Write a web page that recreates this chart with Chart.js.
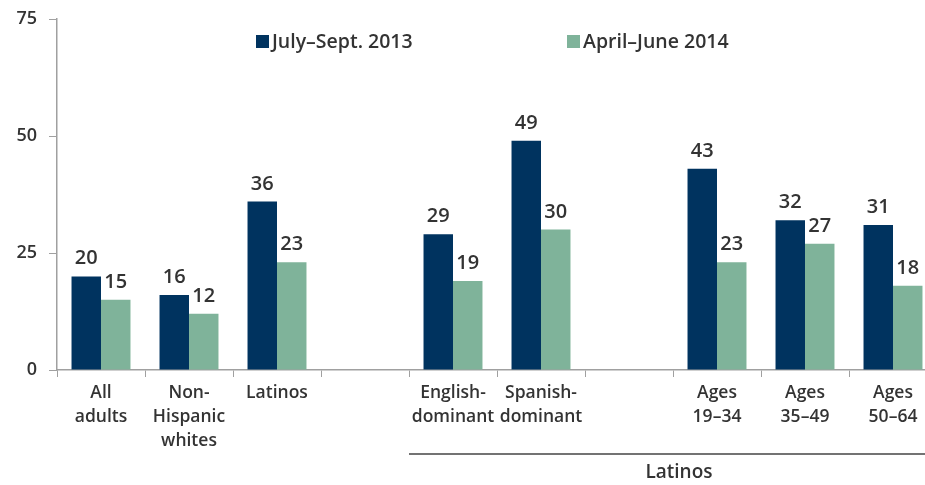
<!DOCTYPE html>
<html>
<head>
<meta charset="utf-8">
<script src="https://cdn.jsdelivr.net/npm/chart.js@4/dist/chart.umd.min.js"></script>
<style>
html,body{margin:0;padding:0;background:#fff;overflow:hidden;}
#wrap{position:relative;width:940px;height:485px;}
</style>
</head>
<body>
<div id="wrap"><canvas id="c"></canvas></div>
<script>
const categories = [
  ["All","adults"],
  ["Non-","Hispanic","whites"],
  ["Latinos"],
  [""],
  ["English-","dominant"],
  ["Spanish-","dominant"],
  [""],
  ["Ages","19–34"],
  ["Ages","35–49"],
  ["Ages","50–64"]
];
const series2013 = [20, 16, 36, null, 29, 49, null, 43, 32, 31];
const series2014 = [15, 12, 23, null, 19, 30, null, 23, 27, 18];
const seriesNames = ["July–Sept. 2013", "April–June 2014"];
const yTicks = [0, 25, 50, 75];
const groupLabel = "Latinos";
const groupStartIndex = 4;

const FONT = "'Open Sans', Lato, sans-serif";
const TEXT = "#333333";
const AXIS = "#a0a0a0";
const C1 = "#00335f";
const C2 = "#7fb39a";

const valueLabels = {
  id: 'valueLabels',
  afterDatasetsDraw(chart) {
    const ctx = chart.ctx;
    ctx.save();
    ctx.font = "600 20px " + FONT;
    ctx.fillStyle = TEXT;
    ctx.textAlign = "center";
    ctx.textBaseline = "alphabetic";
    chart.data.datasets.forEach((ds, di) => {
      const meta = chart.getDatasetMeta(di);
      meta.data.forEach((bar, i) => {
        const v = ds.data[i];
        if (v === null || v === undefined) return;
        ctx.fillText(String(v), bar.x, bar.y - 12);
      });
    });
    ctx.restore();
  }
};

const customLegend = {
  id: 'customLegend',
  afterDraw(chart) {
    const ctx = chart.ctx;
    const items = [
      {x: 256, color: C1, text: seriesNames[0]},
      {x: 567, color: C2, text: seriesNames[1]}
    ];
    ctx.save();
    ctx.font = "600 19.5px " + FONT;
    ctx.textBaseline = "middle";
    ctx.textAlign = "left";
    items.forEach(it => {
      ctx.fillStyle = it.color;
      ctx.fillRect(it.x, 35, 13, 13);
      ctx.fillStyle = TEXT;
      ctx.fillText(it.text, it.x + 16, 42);
    });
    ctx.restore();
  }
};

const groupBracket = {
  id: 'groupBracket',
  afterDraw(chart) {
    const ctx = chart.ctx;
    const xs = chart.scales.x;
    const half = (xs.getPixelForValue(1) - xs.getPixelForValue(0)) / 2;
    const x0 = xs.getPixelForValue(groupStartIndex) - half;
    const x1 = xs.getPixelForValue(categories.length - 1) + half;
    ctx.save();
    ctx.strokeStyle = "#444";
    ctx.lineWidth = 1.5;
    ctx.beginPath();
    ctx.moveTo(x0, 454);
    ctx.lineTo(x1, 454);
    ctx.stroke();
    ctx.font = "600 19px " + FONT;
    ctx.fillStyle = TEXT;
    ctx.textAlign = "center";
    ctx.textBaseline = "middle";
    ctx.fillText(groupLabel, (x0 + x1) / 2 + 6, 473);
    ctx.restore();
  }
};

new Chart(document.getElementById('c'), {
  type: 'bar',
  data: {
    labels: categories,
    datasets: [
      {label: seriesNames[0], data: series2013, backgroundColor: C1, categoryPercentage: 0.67, barPercentage: 1.0},
      {label: seriesNames[1], data: series2014, backgroundColor: C2, categoryPercentage: 0.67, barPercentage: 1.0}
    ]
  },
  options: {
    responsive: true,
    maintainAspectRatio: false,
    animation: false,
    layout: {padding: {top: 19, right: 3, left: 0, bottom: 0}},
    plugins: {legend: {display: false}, tooltip: {enabled: false}},
    scales: {
      x: {
        grid: {drawOnChartArea: false, color: AXIS, tickLength: 7, offset: true},
        border: {color: AXIS, width: 1.5},
        ticks: {
          color: TEXT, font: {family: FONT, size: 17.5, weight: '600', lineHeight: 1.37},
          padding: 4, maxRotation: 0, autoSkip: false
        },
        afterFit(s) { s.height = 115; }
      },
      y: {
        min: 0, max: 75,
        afterBuildTicks(s) { s.ticks = yTicks.map(v => ({value: v})); },
        grid: {drawOnChartArea: false, color: AXIS, tickLength: 8},
        border: {color: AXIS, width: 1.5},
        ticks: {color: TEXT, font: {family: FONT, size: 18, weight: '600', lineHeight: 0.78}, padding: 12},
        afterFit(s) { s.width = 57; }
      }
    }
  },
  plugins: [valueLabels, customLegend, groupBracket]
});
</script>
</body>
</html>
